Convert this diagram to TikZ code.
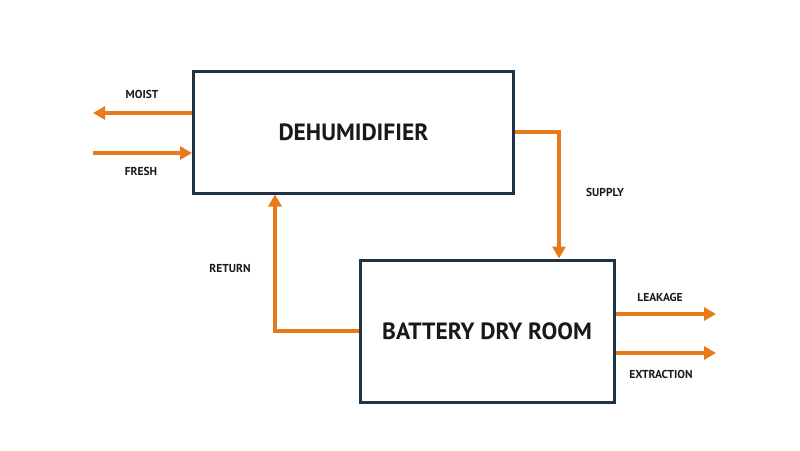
\documentclass[tikz,border=0pt]{standalone}
\usepackage{fontspec}
\setmainfont{PT Sans}
\usetikzlibrary{arrows.meta}
\definecolor{boxc}{HTML}{1F3344}
\definecolor{flow}{HTML}{E77B1C}
\begin{document}
\begin{tikzpicture}[x=1pt,y=-1pt,
  block/.style={draw=boxc,line width=3pt,fill=white,inner sep=0pt,font=\bfseries\fontsize{23.5}{26}\selectfont,text=black!90},
  flowline/.style={draw=flow,line width=4pt,-{Triangle[width=13pt,length=12pt]}},
  lbl/.style={font=\bfseries\fontsize{11.5}{13}\selectfont,text=black!90,inner sep=0pt}]
\useasboundingbox (0,0) rectangle (800,450);
\node[block,minimum width=320pt,minimum height=122pt] (dh) at (353.5,132) {DEHUMIDIFIER};
\node[block,minimum width=254pt,minimum height=142pt] (br) at (487,331) {BATTERY DRY ROOM};
\coordinate (moistend) at (93,113);
\coordinate (freshstart) at (93,153);
\coordinate (leakend) at (716,314);
\coordinate (extrend) at (716,353);
\draw[flowline] (dh.west |- moistend) -- (moistend);
\draw[flowline] (freshstart) -- (dh.west |- freshstart);
\draw[flowline] (dh.east) -- (559,132) -- (559,0 |- br.north);
\draw[flowline] (br.west) -- (275,331) -- (275,0 |- dh.south);
\draw[flowline] (br.east |- leakend) -- (leakend);
\draw[flowline] (br.east |- extrend) -- (extrend);
\node[lbl] (lmoist) at (142,94) {MOIST};
\node[lbl] (lfresh) at (141,171) {FRESH};
\node[lbl] (lsupply) at (605,192) {SUPPLY};
\node[lbl] (lreturn) at (230,268) {RETURN};
\node[lbl] (lleak) at (660,297) {LEAKAGE};
\node[lbl] (lextr) at (661,374) {EXTRACTION};
\end{tikzpicture}
\end{document}
